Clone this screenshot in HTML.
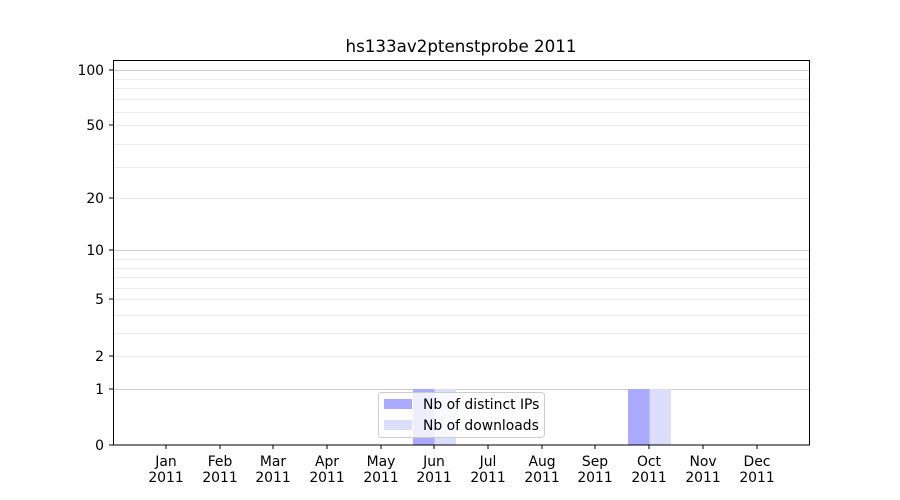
<!DOCTYPE html>
<html><head><meta charset="utf-8"><style>body{margin:0;background:#fff}svg{display:block}text{font-family:"DejaVu Sans","Liberation Sans",sans-serif;font-size:13.9px;fill:#000}</style></head>
<body>
<svg width="900" height="500" viewBox="0 0 900 500">
<g stroke="#ebebeb" stroke-width="1">
<line x1="113" x2="810" y1="356.5" y2="356.5"/><line x1="113" x2="810" y1="333.5" y2="333.5"/><line x1="113" x2="810" y1="315.5" y2="315.5"/><line x1="113" x2="810" y1="299.5" y2="299.5"/><line x1="113" x2="810" y1="288.5" y2="288.5"/><line x1="113" x2="810" y1="277.5" y2="277.5"/><line x1="113" x2="810" y1="268.5" y2="268.5"/><line x1="113" x2="810" y1="259.5" y2="259.5"/>
<line x1="113" x2="810" y1="198.5" y2="198.5"/><line x1="113" x2="810" y1="167.5" y2="167.5"/><line x1="113" x2="810" y1="144.5" y2="144.5"/><line x1="113" x2="810" y1="125.5" y2="125.5"/><line x1="113" x2="810" y1="112.5" y2="112.5"/><line x1="113" x2="810" y1="99.5" y2="99.5"/><line x1="113" x2="810" y1="88.5" y2="88.5"/><line x1="113" x2="810" y1="79.5" y2="79.5"/>
</g>
<g stroke="#cccccc" stroke-width="1">
<line x1="113" x2="810" y1="389.5" y2="389.5"/><line x1="113" x2="810" y1="250.5" y2="250.5"/><line x1="113" x2="810" y1="70.5" y2="70.5"/>
</g>
<rect x="413" y="389" width="21.5" height="56" fill="#aaaaff"/>
<rect x="434.5" y="389" width="21.5" height="56" fill="#ddddff"/>
<rect x="628" y="389" width="21.5" height="56" fill="#aaaaff"/>
<rect x="649.5" y="389" width="21.5" height="56" fill="#ddddff"/>
<rect x="113.5" y="60.5" width="696" height="384.5" fill="none" stroke="#000" stroke-width="1"/>
<g stroke="#000">
<line x1="109" x2="113" y1="445" y2="445"/><line x1="109" x2="113" y1="389" y2="389"/><line x1="109" x2="113" y1="356" y2="356"/><line x1="109" x2="113" y1="299" y2="299"/><line x1="109" x2="113" y1="250" y2="250"/><line x1="109" x2="113" y1="198" y2="198"/><line x1="109" x2="113" y1="125" y2="125"/><line x1="109" x2="113" y1="70" y2="70"/>
</g>
<g text-anchor="end">
<text x="104" y="450">0</text><text x="104" y="394">1</text><text x="104" y="361">2</text><text x="104" y="304">5</text><text x="104" y="255">10</text><text x="104" y="203">20</text><text x="104" y="130">50</text><text x="104" y="75">100</text>
</g>
<g text-anchor="middle">
<text x="166" y="466">Jan</text><text x="166" y="482">2011</text>
<text x="220" y="466">Feb</text><text x="220" y="482">2011</text>
<text x="273" y="466">Mar</text><text x="273" y="482">2011</text>
<text x="327" y="466">Apr</text><text x="327" y="482">2011</text>
<text x="381" y="466">May</text><text x="381" y="482">2011</text>
<text x="434" y="466">Jun</text><text x="434" y="482">2011</text>
<text x="488" y="466">Jul</text><text x="488" y="482">2011</text>
<text x="542" y="466">Aug</text><text x="542" y="482">2011</text>
<text x="595" y="466">Sep</text><text x="595" y="482">2011</text>
<text x="649" y="466">Oct</text><text x="649" y="482">2011</text>
<text x="703" y="466">Nov</text><text x="703" y="482">2011</text>
<text x="757" y="466">Dec</text><text x="757" y="482">2011</text>
<text x="461" y="52" style="font-size:16.7px">hs133av2ptenstprobe 2011</text>
</g>
<g stroke="#000">
<line x1="166" x2="166" y1="445" y2="449"/><line x1="220" x2="220" y1="445" y2="449"/><line x1="273" x2="273" y1="445" y2="449"/><line x1="327" x2="327" y1="445" y2="449"/><line x1="381" x2="381" y1="445" y2="449"/><line x1="434" x2="434" y1="445" y2="449"/><line x1="488" x2="488" y1="445" y2="449"/><line x1="542" x2="542" y1="445" y2="449"/><line x1="595" x2="595" y1="445" y2="449"/><line x1="649" x2="649" y1="445" y2="449"/><line x1="703" x2="703" y1="445" y2="449"/><line x1="757" x2="757" y1="445" y2="449"/>
</g>
<rect x="378.5" y="392.5" width="166" height="45" rx="3" fill="#fff" fill-opacity="0.8" stroke="#ccc"/>
<rect x="384" y="399" width="28" height="10" fill="#aaaaff"/>
<rect x="384" y="420" width="28" height="10" fill="#ddddff"/>
<text x="423" y="409">Nb of distinct IPs</text>
<text x="423" y="430">Nb of downloads</text>
</svg>
</body></html>
